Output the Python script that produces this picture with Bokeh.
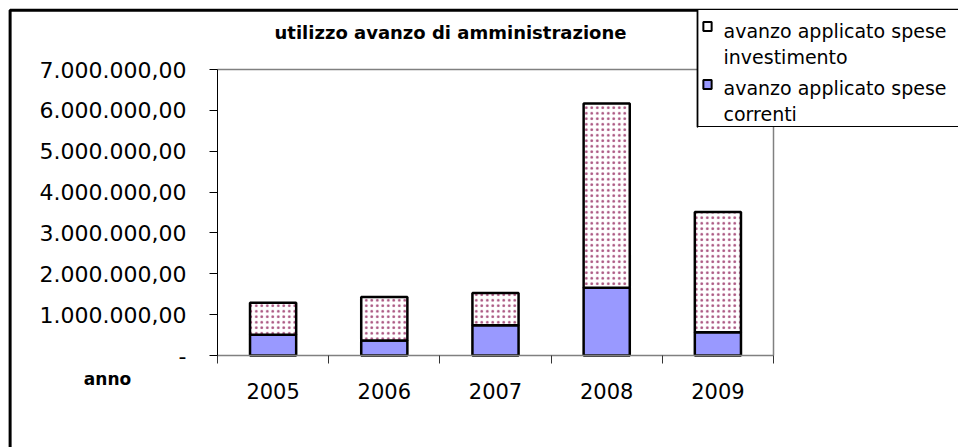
from bokeh.plotting import figure
from bokeh.models import Range1d, FixedTicker, Label, LinearAxis
from bokeh.embed import file_html
from bokeh.resources import INLINE

years = ["2005", "2006", "2007", "2008", "2009"]
spese_correnti = [510000, 370000, 740000, 1660000, 570000]
spese_investimento = [780000, 1060000, 790000, 4510000, 2940000]
y_ticks = [0, 1000000, 2000000, 3000000, 4000000, 5000000, 6000000, 7000000]
y_tick_labels = ["-", "1.000.000,00", "2.000.000,00", "3.000.000,00", "4.000.000,00",
                 "5.000.000,00", "6.000.000,00", "7.000.000,00"]
title_text = "utilizzo avanzo di amministrazione"
x_title = "anno"
legend_labels = ["avanzo applicato spese\ninvestimento", "avanzo applicato spese\ncorrenti"]

FONT = "DejaVu Sans"
W, H = 958, 447

# plot area in canvas pixels
PL, PR, PT, PB = 217, 773, 69, 355
n = len(years)
YMAX = y_ticks[-1]
xs = (PR - PL) / n
ys = (PB - PT) / YMAX
x_range = Range1d(-PL / xs, n + (W - PR) / xs)
y_range = Range1d(-(H - PB) / ys, YMAX + PT / ys)

p = figure(width=W, height=H, output_backend="svg", toolbar_location=None,
           x_range=x_range, y_range=y_range, min_border=0,
           x_axis_type=None, y_axis_type=None)
p.grid.visible = False
p.outline_line_color = None
p.background_fill_color = "white"
p.border_fill_color = "white"

# plot-area frame (top and right edges, grey)
p.line(x=[0, n, n], y=[YMAX, YMAX, 0], line_color="#808080", line_width=1.5)

yax = LinearAxis(ticker=FixedTicker(ticks=y_ticks), fixed_location=0, bounds=(0, YMAX),
                 major_label_overrides={t: l for t, l in zip(y_ticks, y_tick_labels)})
yax.axis_line_color = "black"
yax.major_tick_out = 8
yax.major_tick_in = 0
yax.minor_tick_out = 0
yax.minor_tick_in = 0
yax.major_label_standoff = 23
yax.major_label_text_font = FONT
yax.major_label_text_font_size = "22px"
yax.major_label_text_color = "black"
p.add_layout(yax, "left")

centers = [i + 0.5 for i in range(n)]
bounds = list(range(n + 1))
xax = LinearAxis(ticker=FixedTicker(ticks=centers, minor_ticks=bounds), fixed_location=0,
                 bounds=(0, n),
                 major_label_overrides={c: y for c, y in zip(centers, years)})
xax.axis_line_color = "#808080"
xax.axis_line_width = 1.5
xax.major_tick_out = 0
xax.major_tick_in = 0
xax.minor_tick_out = 8
xax.minor_tick_in = 0
xax.minor_tick_line_color = "#333333"
xax.major_label_standoff = 19
xax.major_label_text_font = FONT
xax.major_label_text_font_size = "21px"
xax.major_label_text_color = "black"
p.add_layout(xax, "below")

data = dict(x=centers, correnti=spese_correnti, investimento=spese_investimento)
p.vbar_stack(["correnti", "investimento"], x="x", width=0.415, source=data,
             fill_color=["#9999FF", "white"], line_color="black", line_width=2.5,
             hatch_pattern=[" ", "dot"], hatch_color="#993366", hatch_scale=5.5,
             hatch_weight=0.8, hatch_alpha=0.85)


def rect(x0, y0, x1, y1, fill=None, line="black", lw=1.5):
    """Rectangle in canvas pixels (y downward), drawn as a padded empty label."""
    w, h = x1 - x0, y1 - y0
    p.add_layout(Label(x=(x0 + x1) / 2, y=(y0 + y1) / 2, x_units="canvas", y_units="canvas",
                       text=" ", text_font_size="1px", text_align="center",
                       text_baseline="middle", padding=(int(round(w / 2)), int(round(h / 2))),
                       background_fill_color=fill, border_line_color=line,
                       border_line_width=lw, level="overlay"))


# outer chart frame (only left and top edges visible)
rect(9.5, 10.5, 1200, 900, fill=None, line="black", lw=3)

p.add_layout(Label(x=450, y=32, x_units="canvas", y_units="canvas", text=title_text,
                   text_font=FONT, text_font_size="18px", text_font_style="bold",
                   text_color="black", text_align="center", text_baseline="middle"))
p.add_layout(Label(x=107, y=378, x_units="canvas", y_units="canvas", text=x_title,
                   text_font=FONT, text_font_size="17px", text_font_style="bold",
                   text_color="black", text_align="center", text_baseline="middle"))

# legend box: white body, left and bottom edges (right edge runs off the page)
rect(697, 10, 1010, 126, fill="white", line=None)
rect(697, 10, 697, 126, fill=None, line="black", lw=1.5)
rect(697, 126, 1010, 126, fill="black", line=None)
rect(703, 22, 711, 30, fill="white", line="black", lw=2)
rect(703, 80, 711, 88, fill="#9999FF", line="black", lw=2)
for lab, ytop in zip(legend_labels, [19, 76]):
    p.add_layout(Label(x=723, y=ytop, x_units="canvas", y_units="canvas", text=lab,
                       text_font=FONT, text_font_size="19px", text_align="left",
                       text_color="black", text_baseline="top", text_line_height=1.2,
                       level="overlay"))

open("out.html", "w").write(file_html(p, INLINE))
